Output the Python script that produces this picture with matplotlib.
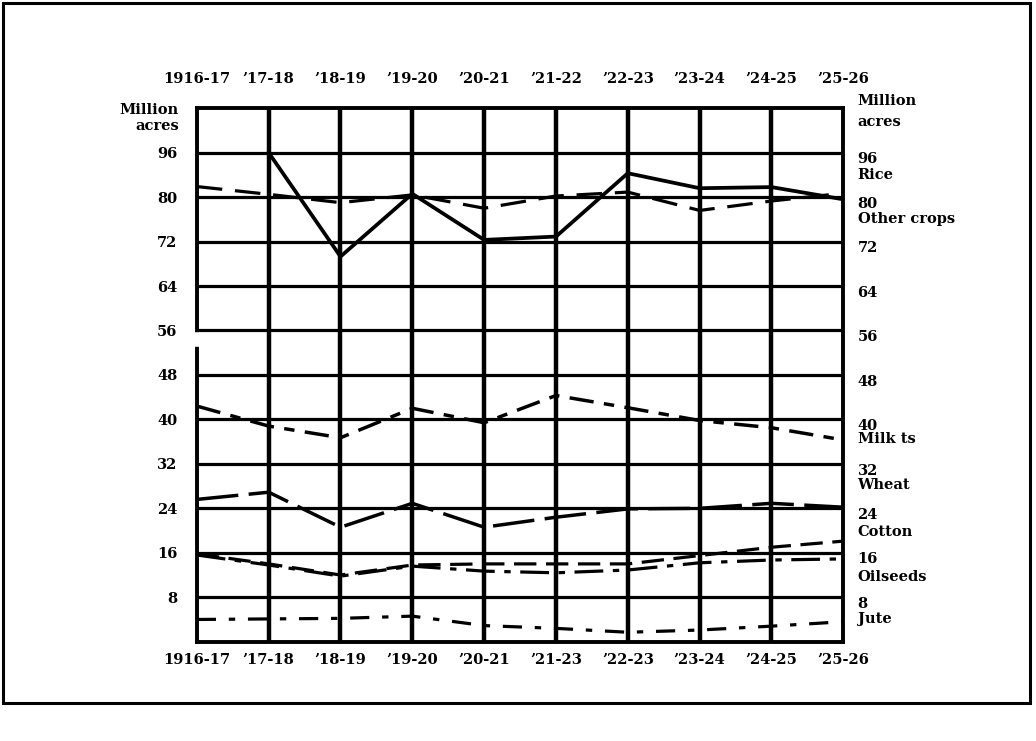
import numpy as np
import matplotlib.pyplot as plt
import matplotlib.transforms as mtransforms
from matplotlib.patches import Rectangle

# Years along the top and bottom (the bottom row of the original has a misprint)
YEARS_TOP = ['1916-17', '\u201917-18', '\u201918-19', '\u201919-20', '\u201920-21',
             '\u201921-22', '\u201922-23', '\u201923-24', '\u201924-25', '\u201925-26']
YEARS_BOTTOM = ['1916-17', '\u201917-18', '\u201918-19', '\u201919-20', '\u201920-21',
                '\u201921-23', '\u201922-23', '\u201923-24', '\u201924-25', '\u201925-26']

# Grid positions and the printed scale (top line is printed as 96)
TICK_POS = [8, 16, 24, 32, 40, 48, 56, 64, 72, 80, 88]
TICK_LABELS = ['8', '16', '24', '32', '40', '48', '56', '64', '72', '80', '96']

# Million acres
RICE = [np.nan, 88.0, 69.3, 80.6, 72.3, 72.9, 84.3, 81.6, 81.8, 79.6]
OTHER_CROPS = [81.9, 80.5, 79.0, 80.4, 78.0, 80.2, 80.9, 77.6, 79.3, 80.7]
MILLETS = [42.4, 38.8, 36.7, 42.0, 39.4, 44.3, 42.1, 39.8, 38.5, 36.3]
WHEAT = [25.6, 26.9, 20.6, 24.9, 20.6, 22.4, 23.9, 24.0, 24.9, 24.2]
COTTON = [15.8, 14.0, 12.0, 13.8, 14.0, 14.0, 14.0, 15.5, 17.0, 18.1]
OILSEEDS = [15.6, 13.8, 11.8, 13.6, 12.7, 12.4, 12.9, 14.2, 14.7, 14.9]
JUTE = [4.0, 4.1, 4.2, 4.6, 2.9, 2.4, 1.7, 2.1, 2.8, 3.6]

# Crop names printed at the right edge, with their heights on the grid
CROP_LABELS = ['Rice', 'Other crops', 'Milk ts', 'Wheat', 'Cotton', 'Oilseeds', 'Jute']
CROP_LABEL_POS = [83.9, 76.0, 36.5, 28.2, 19.8, 11.6, 4.0]

FONT = dict(family='DejaVu Serif', weight='bold', size=10.5)

fig = plt.figure(figsize=(10.36, 7.41), dpi=100)
ax = fig.add_axes([0.190, 0.134, 0.624, 0.720])

x = np.arange(len(YEARS_TOP))

# heavy hand-drawn looking grid
for y in TICK_POS:
    ax.axhline(y, color='black', lw=2.3, zorder=1)
for xv in x[1:-1]:
    ax.axvline(xv, color='black', lw=3.2, zorder=1)

ax.plot(x, RICE, color='black', lw=2.7, zorder=3)
ax.plot(x, OTHER_CROPS, color='black', lw=2.3, dashes=(8, 4), zorder=3)
ax.plot(x, MILLETS, color='black', lw=2.5, dashes=(7, 3, 3, 3), zorder=3)
ax.plot(x, WHEAT, color='black', lw=2.5, dashes=(12, 3), zorder=3)
ax.plot(x, COTTON, color='black', lw=2.3, dashes=(7, 3), zorder=3)
ax.plot(x, OILSEEDS, color='black', lw=2.3, dashes=(9, 3, 2, 3), zorder=3)
ax.plot(x, JUTE, color='black', lw=2.3, dashes=(6, 4, 2, 4), zorder=3)

ax.set_xlim(0, 9)
ax.set_ylim(0, 96)

for side in ['left', 'right', 'top', 'bottom']:
    ax.spines[side].set_linewidth(2.8)
    ax.spines[side].set_color('black')

# small break in the left border just under 56, as in the print
ax.plot([0, 0], [53.6, 55.2], color='white', lw=4, zorder=5, clip_on=False)

ax.set_yticks(TICK_POS, labels=TICK_LABELS)
ax.tick_params(axis='y', length=0, pad=14)
for lbl in ax.get_yticklabels():
    lbl.set_fontproperties(FONT)

ax.set_xticks(x, labels=YEARS_BOTTOM)
ax.tick_params(axis='x', length=0, pad=8)
for lbl in ax.get_xticklabels():
    lbl.set_fontproperties(FONT)

top = ax.secondary_xaxis('top')
top.set_xticks(x, labels=YEARS_TOP)
top.tick_params(length=0, pad=16)
top.spines['top'].set_visible(False)
for lbl in top.get_xticklabels():
    lbl.set_fontproperties(FONT)

trans = mtransforms.blended_transform_factory(ax.transAxes, ax.transData)
ax.text(-0.028, 95.6, 'Million', transform=trans, ha='right', va='center', **FONT)
ax.text(-0.028, 92.8, 'acres', transform=trans, ha='right', va='center', **FONT)
ax.text(1.022, 97.3, 'Million', transform=trans, ha='left', va='center', **FONT)
ax.text(1.022, 93.6, 'acres', transform=trans, ha='left', va='center', **FONT)
# right-hand scale sits a little below its grid lines in the print
for pos, lab in zip(TICK_POS, TICK_LABELS):
    ax.text(1.022, pos - 1.2, lab, transform=trans, ha='left', va='center', **FONT)
for name, yv in zip(CROP_LABELS, CROP_LABEL_POS):
    ax.text(1.022, yv, name, transform=trans, ha='left', va='center', **FONT)

# outer frame of the scanned page
fig.patches.append(Rectangle((0.003, 0.051), 0.991, 0.945, transform=fig.transFigure,
                             fill=False, edgecolor='black', lw=2.2))

fig.savefig('out.png', dpi=100, facecolor='white')
